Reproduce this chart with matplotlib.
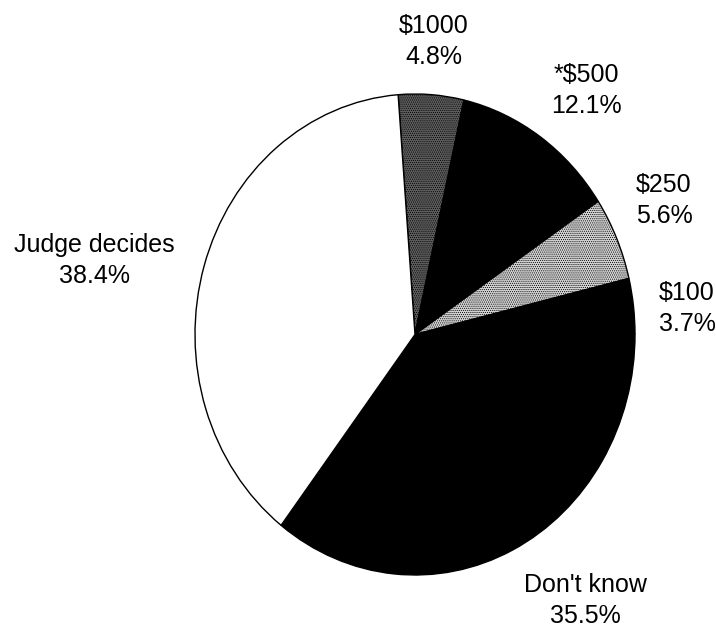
import matplotlib
matplotlib.use("Agg")
import matplotlib.pyplot as plt

# slice data, clockwise from top
categories = ["$1000", "*$500", "$250", "$100", "Don't know", "Judge decides"]
shares = [4.8, 12.1, 5.6, 3.7, 35.5, 38.4]
pct_labels = ["4.8%", "12.1%", "5.6%", "3.7%", "35.5%", "38.4%"]

fills = ["#5e5e5e", "black", "#d4d4d4", "black", "black", "white"]
hatches = ["........", None, "........", None, None, None]

# label anchors in pixels (center x, baseline of first line)
lab_x = [434, 586, 664, 687, 585, 94]
lab_y = [33, 82, 192, 300, 592, 252]

W, H = 716, 632
plt.rcParams["font.family"] = ["Liberation Sans", "DejaVu Sans"]
plt.rcParams["hatch.linewidth"] = 0.5

fig = plt.figure(figsize=(W / 100, H / 100), dpi=100)
# ellipse spans x 195..635, y 94..575 (pixels from top)
ax = fig.add_axes([195 / W, (H - 575) / H, 440 / W, 481 / H])

wedges, _ = ax.pie(shares, startangle=94.4, counterclock=False, colors=fills,
                   wedgeprops=dict(edgecolor="black", linewidth=1.0))
for w, h in zip(wedges, hatches):
    if h:
        w.set_hatch(h)
ax.set_aspect("auto")
ax.set_xlim(-1, 1)
ax.set_ylim(-1, 1)
ax.axis("off")

for name, pct, x, y in zip(categories, pct_labels, lab_x, lab_y):
    fig.text(x / W, 1 - y / H, name, ha="center", va="baseline", fontsize=18)
    fig.text(x / W, 1 - (y + 31) / H, pct, ha="center", va="baseline", fontsize=18)

fig.savefig("out.png", dpi=100, facecolor="white")
